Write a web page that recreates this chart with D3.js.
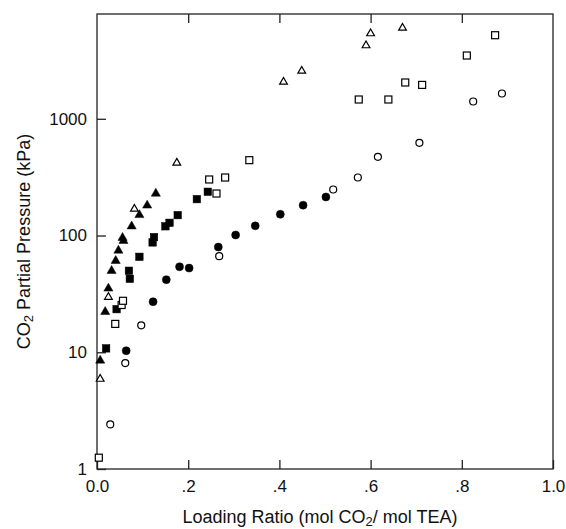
<!DOCTYPE html>
<html>
<head>
<meta charset="utf-8">
<script src="https://cdn.jsdelivr.net/npm/d3@7"></script>
<style>
    body { margin: 0; background: #fff; }
    svg text { font-family: Arial, "Liberation Sans", Helvetica, sans-serif; fill: #111; }
</style>
</head>
<body>
<div id="chart"></div>
<script>
// Loading ratio (x) and CO2 partial pressure in kPa (y), one pair of arrays per marker series
const filledTriX = [0.007, 0.018, 0.025, 0.032, 0.041, 0.047, 0.056, 0.058, 0.076, 0.093, 0.110, 0.129];
const filledTriY = [8.5, 22.2, 35.2, 49.9, 60.7, 74.4, 95.6, 90.1, 120, 150, 181, 229];

const openTriX = [0.007, 0.025, 0.082, 0.175, 0.409, 0.449, 0.590, 0.600, 0.670];
const openTriY = [5.9, 29.7, 169, 419, 2070, 2570, 4245, 5375, 6000];

const filledSqX = [0.020, 0.043, 0.070, 0.072, 0.093, 0.122, 0.125, 0.150, 0.159, 0.177, 0.219, 0.243];
const filledSqY = [10.8, 23.4, 49.9, 42.6, 65.7, 87.3, 96.9, 120, 128.5, 149.5, 205, 237];

const openSqX = [0.004, 0.040, 0.054, 0.057, 0.246, 0.262, 0.281, 0.334, 0.574, 0.639, 0.676, 0.713, 0.811, 0.873];
const openSqY = [1.25, 17.5, 25.4, 27.6, 302, 229, 314, 442, 1463, 1463, 2046, 1951, 3483, 5198];

const filledCircX = [0.064, 0.123, 0.152, 0.181, 0.202, 0.266, 0.304, 0.347, 0.402, 0.452, 0.502];
const filledCircY = [10.3, 27.1, 41.9, 54.0, 52.6, 79.6, 101, 121, 152, 182, 214];

const openCircX = [0.029, 0.062, 0.097, 0.268, 0.518, 0.572, 0.616, 0.707, 0.825, 0.888];
const openCircY = [2.41, 8.08, 17.0, 66.6, 248, 314, 472, 622, 1406, 1647];

const xTicks = [0, 0.2, 0.4, 0.6, 0.8, 1.0];
const xTickLabels = ["0.0", ".2", ".4", ".6", ".8", "1.0"];
const yTicks = [1, 10, 100, 1000];

const series = [
    { x: filledTriX, y: filledTriY, shape: "triangle", filled: true },
    { x: openTriX, y: openTriY, shape: "triangle", filled: false },
    { x: filledSqX, y: filledSqY, shape: "square", filled: true },
    { x: openSqX, y: openSqY, shape: "square", filled: false },
    { x: filledCircX, y: filledCircY, shape: "circle", filled: true },
    { x: openCircX, y: openCircY, shape: "circle", filled: false }
];

const margin = { top: 14, right: 13, bottom: 60, left: 97 };
const width = 566 - margin.left - margin.right;
const height = 529 - margin.top - margin.bottom;

const svg = d3.select("#chart").append("svg")
    .attr("width", 566)
    .attr("height", 529)
    .append("g")
    .attr("transform", `translate(${margin.left}, ${margin.top})`);

const x = d3.scaleLinear().domain([0, 1]).range([0, width]);
const y = d3.scaleLog().domain([1, 7900]).range([height, 0]);

// frame
svg.append("rect")
    .attr("width", width)
    .attr("height", height)
    .attr("fill", "none")
    .attr("stroke", "#222")
    .attr("stroke-width", 1.3);

// bottom axis, ticks pointing inwards
const xAxis = d3.axisBottom(x)
    .tickValues(xTicks)
    .tickFormat((d, i) => xTickLabels[i])
    .tickSizeInner(-9)
    .tickSizeOuter(0)
    .tickPadding(11);

svg.append("g")
    .attr("class", "x axis")
    .attr("transform", `translate(0,${height})`)
    .call(xAxis);

// mirrored ticks on top, no labels
svg.append("g")
    .attr("class", "x2 axis")
    .call(d3.axisTop(x).tickValues(xTicks.slice(1, -1)).tickFormat("").tickSizeInner(-9).tickSizeOuter(0));

const yAxis = d3.axisLeft(y)
    .tickValues(yTicks)
    .tickFormat(d3.format("d"))
    .tickSizeInner(-9)
    .tickSizeOuter(0)
    .tickPadding(10);

svg.append("g")
    .attr("class", "y axis")
    .call(yAxis);

svg.selectAll(".axis path").remove();
svg.selectAll(".axis line").attr("stroke", "#222").attr("stroke-width", 1.3);
svg.selectAll(".axis text")
    .attr("font-size", 17)
    .attr("fill", "#111")
    .style("font-family", "Arial, 'Liberation Sans', Helvetica, sans-serif");

// markers
const triangle = d3.symbol().type(d3.symbolTriangle);

series.forEach(s => {
    const pts = s.x.map((v, i) => ({ x: v, y: s.y[i] }));
    const g = svg.append("g")
        .attr("fill", s.filled ? "#000" : "#fff")
        .attr("stroke", "#000")
        .attr("stroke-width", s.filled ? 0.5 : 1.2);

    if (s.shape === "circle") {
        g.selectAll("circle").data(pts).enter().append("circle")
            .attr("cx", d => x(d.x))
            .attr("cy", d => y(d.y))
            .attr("r", s.filled ? 4 : 3.5);
    } else if (s.shape === "square") {
        const a = s.filled ? 7.5 : 7;
        g.selectAll("rect").data(pts).enter().append("rect")
            .attr("x", d => x(d.x) - a / 2)
            .attr("y", d => y(d.y) - a / 2)
            .attr("width", a)
            .attr("height", a);
    } else {
        g.selectAll("path").data(pts).enter().append("path")
            .attr("transform", d => `translate(${x(d.x)},${y(d.y)})`)
            .attr("d", triangle.size(s.filled ? 36 : 26)());
    }
});

// axis titles
svg.append("text")
    .attr("x", width / 2 - 5)
    .attr("y", height + 54)
    .attr("text-anchor", "middle")
    .attr("font-size", 18)
    .html('Loading Ratio (mol CO<tspan baseline-shift="-25%" font-size="13">2</tspan>/ mol TEA)');

svg.append("text")
    .attr("transform", `translate(${-margin.left + 30},${height / 2}) rotate(-90)`)
    .attr("text-anchor", "middle")
    .attr("font-size", 18)
    .html('CO<tspan baseline-shift="-25%" font-size="13">2</tspan> Partial Pressure (kPa)');
</script>
</body>
</html>
